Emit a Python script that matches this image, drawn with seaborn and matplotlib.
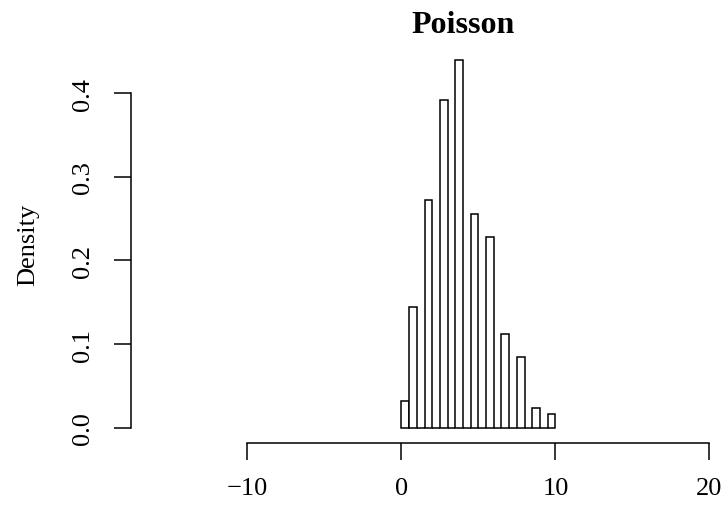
#!/usr/bin/env python3
# -*- coding: utf-8 -*-

"""
Histograma de densidad de una muestra Poisson, al estilo de R base.
"""

import numpy as np
import pandas as pd
import matplotlib
matplotlib.use('Agg')
import matplotlib.pyplot as plt
import seaborn as sns

# Datos: valor entero y densidad de su barra
valores = [0, 1, 2, 3, 4, 5, 6, 7, 8, 9, 10]
densidades = [0.032, 0.144, 0.272, 0.392, 0.44, 0.256, 0.228, 0.112, 0.084, 0.024, 0.016]
cortes = [i * 0.5 for i in range(21)]   # breaks de ancho 0.5, de 0 a 10

x_ticks = [-10, 0, 10, 20]
y_ticks = [0.0, 0.1, 0.2, 0.3, 0.4]
y_labels = ['0.0', '0.1', '0.2', '0.3', '0.4']

# Intervalos cerrados por la derecha, como hist() de R (include.lowest)
idx = np.digitize(valores, cortes, right=True) - 1
idx = np.clip(idx, 0, len(cortes) - 2)
dens_bins = np.zeros(len(cortes) - 1)
for i, d in zip(idx, densidades):
    dens_bins[i] += d

df = pd.DataFrame({'izq': cortes[:-1], 'densidad': dens_bins})

sns.set_style('ticks')
plt.rcParams['font.family'] = ['Liberation Serif', 'DejaVu Serif']
plt.rcParams['text.color'] = 'black'
plt.rcParams['axes.labelcolor'] = 'black'

fig = plt.figure(figsize=(7.27, 5.06), dpi=100)
W, H = 727, 506
left, right, bottom, top = 130.5, 795.5, 443.5, 45.9
ax = fig.add_axes([left / W, (H - bottom) / H, (right - left) / W, (bottom - top) / H])

sns.histplot(data=df, x='izq', weights='densidad', bins=cortes, stat='count',
             color='white', edgecolor='black', linewidth=1.1, alpha=1, ax=ax)

# Rangos con la extensión del 4% de R
xlim = (-16, 24)
ylim = (0, 0.44)
dx = 0.04 * (xlim[1] - xlim[0])
dy = 0.04 * (ylim[1] - ylim[0])
ax.set_xlim(xlim[0] - dx, xlim[1] + dx)
ax.set_ylim(ylim[0] - dy, ylim[1] + dy)

ax.set_xticks(x_ticks)
ax.set_xticklabels([f'{t}'.replace('-', '\u2212') for t in x_ticks])
ax.set_yticks(y_ticks)
ax.set_yticklabels(y_labels, rotation=90, va='center')

for s in ['top', 'right']:
    ax.spines[s].set_visible(False)
ax.spines['bottom'].set_bounds(x_ticks[0], x_ticks[-1])
ax.spines['left'].set_bounds(y_ticks[0], y_ticks[-1])
for s in ['bottom', 'left']:
    ax.spines[s].set_linewidth(1.1)
    ax.spines[s].set_color('black')

ax.tick_params(axis='both', length=12, width=1.1, color='black',
               labelcolor='black', labelsize=19)
ax.tick_params(axis='x', pad=13)
ax.tick_params(axis='y', pad=14)

ax.set_xlabel('')
ax.set_ylabel('Density', fontsize=19, labelpad=24, color='black')
ax.set_title('Poisson', fontsize=23, fontweight='bold', pad=9, color='black')
ax.grid(False)

fig.savefig('out.png', dpi=100)
plt.close(fig)
